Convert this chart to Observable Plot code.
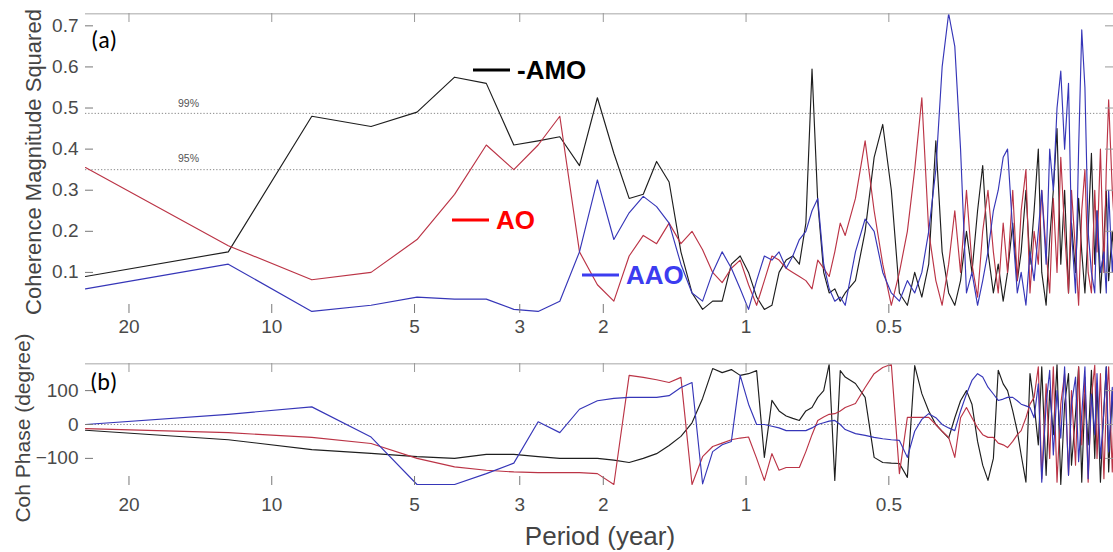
<!DOCTYPE html>
<html>
<head>
<meta charset="utf-8">
<script src="https://cdn.jsdelivr.net/npm/d3@7"></script>
<script src="https://cdn.jsdelivr.net/npm/@observablehq/plot@0.6"></script>
<style>
  html, body { margin: 0; padding: 0; background: #fff; }
  #chart { position: relative; width: 1113px; height: 552px; overflow: hidden; background: #fff; }
  #chart svg { display: block; }
  #overlay { position: absolute; left: 0; top: 0; pointer-events: none; }
</style>
</head>
<body>
<div id="chart"></div>
<script>
// Spectral bins: period (years) of each frequency bin, long periods first
const period = [
  24.7, 12.35, 8.233, 6.175, 4.94, 4.117, 3.529, 3.088, 2.744, 2.47,
  2.245, 2.058, 1.9, 1.764, 1.647, 1.544, 1.453, 1.372, 1.3, 1.235,
  1.176, 1.123, 1.074, 1.029, 0.988, 0.95, 0.915, 0.882, 0.852, 0.823,
  0.797, 0.772, 0.748, 0.726, 0.706, 0.686, 0.668, 0.65, 0.633, 0.618,
  0.588, 0.561, 0.537, 0.515, 0.494, 0.475, 0.457, 0.441, 0.426, 0.412,
  0.398, 0.386, 0.374, 0.363, 0.353, 0.343, 0.334, 0.325, 0.317, 0.309,
  0.301, 0.294, 0.287, 0.281, 0.274, 0.268, 0.263, 0.257, 0.252, 0.247,
  0.242, 0.238, 0.233, 0.229, 0.225, 0.221, 0.217, 0.213, 0.209, 0.206,
  0.202, 0.199, 0.196, 0.193, 0.19, 0.187, 0.184, 0.182, 0.179, 0.176,
  0.174, 0.172, 0.169, 0.167
];

// (a) magnitude-squared coherence with the index
const cohAMO = [
  0.09, 0.15, 0.48, 0.455, 0.49, 0.575, 0.56, 0.41, 0.42, 0.43,
  0.36, 0.525, 0.39, 0.28, 0.29, 0.37, 0.32, 0.15, 0.05, 0.01,
  0.03, 0.03, 0.12, 0.14, 0.10, 0.04, 0.01, 0.02, 0.10, 0.13,
  0.14, 0.12, 0.22, 0.595, 0.27, 0.10, 0.05, 0.06, 0.03, 0.05,
  0.08, 0.20, 0.38, 0.46, 0.30, 0.05, 0.02, 0.10, 0.04, 0.12,
  0.42, 0.15, 0.05, 0.02, 0.08, 0.20, 0.10, 0.25, 0.36, 0.15,
  0.05, 0.12, 0.03, 0.10, 0.22, 0.08, 0.15, 0.30, 0.12, 0.25,
  0.40, 0.10, 0.02, 0.18, 0.30, 0.45, 0.12, 0.30, 0.05, 0.22,
  0.10, 0.28, 0.15, 0.05, 0.20, 0.39, 0.12, 0.25, 0.05, 0.18,
  0.30, 0.08, 0.20, 0.10
];
const cohAO = [
  0.355, 0.165, 0.082, 0.10, 0.18, 0.29, 0.41, 0.35, 0.41, 0.48,
  0.15, 0.07, 0.03, 0.14, 0.19, 0.17, 0.22, 0.17, 0.20, 0.155,
  0.10, 0.075, 0.11, 0.13, 0.07, 0.02, 0.08, 0.14, 0.13, 0.11,
  0.10, 0.09, 0.08, 0.06, 0.13, 0.11, 0.09, 0.15, 0.22, 0.19,
  0.28, 0.42, 0.25, 0.12, 0.02, 0.10, 0.20, 0.35, 0.525, 0.20,
  0.08, 0.02, 0.12, 0.25, 0.10, 0.30, 0.12, 0.04, 0.20, 0.30,
  0.15, 0.05, 0.22, 0.10, 0.30, 0.08, 0.25, 0.35, 0.05, 0.20,
  0.12, 0.30, 0.15, 0.05, 0.28, 0.10, 0.38, 0.20, 0.05, 0.30,
  0.15, 0.02, 0.25, 0.35, 0.10, 0.05, 0.30, 0.15, 0.40, 0.10,
  0.35, 0.52, 0.30, 0.20
];
const cohAAO = [
  0.06, 0.12, 0.005, 0.02, 0.04, 0.035, 0.035, 0.01, 0.005, 0.03,
  0.15, 0.325, 0.18, 0.245, 0.285, 0.26, 0.22, 0.12, 0.05, 0.03,
  0.10, 0.15, 0.11, 0.06, 0.01, 0.08, 0.14, 0.13, 0.15, 0.11,
  0.14, 0.18, 0.20, 0.25, 0.28, 0.12, 0.06, 0.03, 0.04, 0.02,
  0.15, 0.23, 0.20, 0.10, 0.05, 0.03, 0.08, 0.05, 0.10, 0.20,
  0.35, 0.60, 0.73, 0.65, 0.40, 0.05, 0.10, 0.02, 0.08, 0.15,
  0.25, 0.30, 0.38, 0.40, 0.20, 0.05, 0.10, 0.02, 0.15, 0.08,
  0.20, 0.30, 0.12, 0.40, 0.30, 0.50, 0.59, 0.40, 0.56, 0.20,
  0.05, 0.40, 0.69, 0.55, 0.20, 0.10, 0.05, 0.25, 0.10, 0.15,
  0.05, 0.30, 0.10, 0.20
];

// (b) coherence phase, degrees
const phAMO = [
  -17, -45, -74, -85, -95, -100, -88, -88, -95, -100,
  -100, -100, -105, -112, -100, -86, -62, -35, 5, 77,
  165, 153, 162, 145, 150, 159, -97, 71, 40, 25,
  18, 12, 40, 50, 80, 100, 178, -165, 159, 140,
  121, 80, -97, -112, -114, -115, -156, 174, 91, 40,
  0, -20, -40, 20, 70, 100, 60, -50, -120, -165,
  -100, 160, 120, 100, 40, -20, -90, -170, 150, 60,
  -60, 170, -150, 100, -30, 178, -177, 60, 150, -120,
  30, 170, -170, 90, -60, 160, -100, 120, -170, 50,
  170, -140, 100, -60
];
const phAO = [
  -12, -24, -38, -56, -100, -125, -135, -140, -142, -142,
  -142, -145, -177, 145, 139, 132, 124, 139, -177, -95,
  -65, -55, -45, -40, -37, -100, -165, -86, -135, -127,
  -127, -127, -80, -30, 12, 22, 30, 32, 40, 50,
  62, 109, 150, 168, 178, -145, 21, 21, 21, 21,
  0, -20, -38, -97, 20, 50, 20, -10, -30, -38,
  -38, -55, -60, -68, -50, -30, -18, 20, 60, 80,
  170, -160, 120, -100, 170, -170, 60, 150, -150, 100,
  -120, 170, -60, 140, -170, 80, 175, -100, 150, -160,
  60, 170, -140, 120
];
const phAAO = [
  0, 30, 52, -37, -177, -177, -145, -114, 8, -24,
  45, 70, 77, 80, 80, 80, 85, 109, 124, -175,
  -80, -60, -50, 145, 60, 0, 0, -5, -10, -18,
  -18, -18, -18, -10, 0, 5, 10, 12, 0, -15,
  -27, -32, -38, -42, -45, -47, -97, -20, 15, 32,
  20, 0, -10, -18, 40, 90, 130, 150, 140, 110,
  90, 71, 75, 80, 80, 70, 60, 55, 50, 20,
  120, -170, 60, 160, -90, 100, -40, 170, -150, 60,
  140, -110, 30, 170, -160, 90, -30, 150, -100, 40,
  170, -80, 110, -140
];

const seriesNames = ["-AMO", "AO", "AAO"];
const seriesColors = ["#1e1e1e", "#bb3446", "#3636b8"];

const periodTicks = [20, 10, 5, 3, 2, 1, 0.5];
const cohTicks = [0.1, 0.2, 0.3, 0.4, 0.5, 0.6, 0.7];
const phaseTicks = [-100, 0, 100];
const sigLevels = [0.487, 0.35];
const sigLabels = ["99%", "95%"];

const W = 1113;
const ML = 85;
const frameW = W - ML;
const font = "'Liberation Sans', Arial, Helvetica, sans-serif";
const xOpts = {type: "log", domain: [24.7, 0.168]};

function rows(values) {
  return period.map((p, i) => ({p, v: values[i]}));
}

function framing(yDomain, yTicks, frameH) {
  return [
    Plot.ruleY([yDomain[1]], {stroke: "#c4c4c4", strokeWidth: 2}),
    Plot.ruleY([yDomain[0]], {stroke: "#8c8c8c", strokeWidth: 1}),
    Plot.ruleX(periodTicks, {x: d => d, insetTop: frameH - 9, stroke: "#777"}),
    Plot.ruleX(periodTicks, {x: d => d, insetBottom: frameH - 9, stroke: "#999"}),
    Plot.ruleY(yTicks, {y: d => d, insetRight: frameW - 8, stroke: "#777"}),
    Plot.ruleY(yTicks, {y: d => d, insetLeft: frameW - 8, stroke: "#999"})
  ];
}

function seriesLines(arrays) {
  return arrays.map((arr, i) =>
    Plot.line(rows(arr), {x: "p", y: "v", stroke: seriesColors[i], strokeWidth: 1.15, curve: "linear"})
  );
}

// Panel (a): coherence
const frameHA = 300;
const plotA = Plot.plot({
  width: W, height: 345,
  marginLeft: ML, marginRight: 0, marginTop: 13, marginBottom: 32,
  style: {fontFamily: font, color: "#4a4a4a", background: "transparent", overflow: "visible"},
  x: xOpts,
  y: {domain: [0, 0.73]},
  clip: true,
  marks: [
    Plot.ruleY(sigLevels, {y: d => d, stroke: "#8a8a8a", strokeWidth: 1, strokeDasharray: "1.3,1.9"}),
    ...seriesLines([cohAMO, cohAO, cohAAO]),
    ...framing([0, 0.73], cohTicks, frameHA),
    Plot.axisX(periodTicks, {tickSize: 0, tickPadding: 6, fontSize: 19, tickFormat: d => String(d), label: null}),
    Plot.axisY(cohTicks, {tickSize: 0, tickPadding: 7, fontSize: 19, tickFormat: d => d.toFixed(1), label: null})
  ]
});

// Panel (b): phase
const frameHB = 122;
const plotB = Plot.plot({
  width: W, height: 207,
  marginLeft: ML, marginRight: 0, marginTop: 18, marginBottom: 67,
  style: {fontFamily: font, color: "#4a4a4a", background: "transparent", overflow: "visible"},
  x: xOpts,
  y: {domain: [-180, 180]},
  clip: true,
  marks: [
    Plot.ruleY([0], {stroke: "#8a8a8a", strokeWidth: 1, strokeDasharray: "1.3,1.9"}),
    ...seriesLines([phAMO, phAO, phAAO]),
    ...framing([-180, 180], phaseTicks, frameHB),
    Plot.axisX(periodTicks, {tickSize: 0, tickPadding: 12, fontSize: 19, tickFormat: d => String(d), label: null}),
    Plot.axisY(phaseTicks, {tickSize: 0, tickPadding: 7, fontSize: 19, label: null})
  ]
});

const chart = document.getElementById("chart");
chart.appendChild(plotA);
chart.appendChild(plotB);

// Titles, panel tags, significance labels and the series key
const ov = d3.select(chart).append("svg")
  .attr("id", "overlay")
  .attr("width", W).attr("height", 552)
  .style("font-family", font);

ov.append("text").attr("transform", "translate(41,162) rotate(-90)")
  .attr("text-anchor", "middle").attr("font-size", 22).attr("fill", "#444")
  .text("Coherence Magnitude Squared");
ov.append("text").attr("transform", "translate(30,428) rotate(-90)")
  .attr("text-anchor", "middle").attr("font-size", 21).attr("fill", "#444")
  .text("Coh Phase (degree)");
ov.append("text").attr("x", 600).attr("y", 545)
  .attr("text-anchor", "middle").attr("font-size", 26).attr("fill", "#444")
  .text("Period (year)");

const tagFont = "Calibri, Carlito, 'Open Sans', 'Liberation Sans', sans-serif";
ov.append("text").attr("x", 91).attr("y", 48).attr("font-size", 24)
  .attr("font-family", tagFont).attr("fill", "#000").text("(a)");
ov.append("text").attr("x", 90).attr("y", 390).attr("font-size", 24)
  .attr("font-family", tagFont).attr("fill", "#000").text("(b)");

sigLabels.forEach((t, i) => {
  ov.append("text").attr("x", 178).attr("y", [107, 162][i])
    .attr("font-size", 10.5).attr("fill", "#555").text(t);
});

const keyColors = ["#000000", "#ff0000", "#3c3cf0"];
const keyPos = [[473, 70], [452, 220], [582, 275]];
seriesNames.forEach((name, i) => {
  const [x, y] = keyPos[i];
  ov.append("line").attr("x1", x).attr("x2", x + 37).attr("y1", y).attr("y2", y)
    .attr("stroke", keyColors[i]).attr("stroke-width", 3.2);
  ov.append("text").attr("x", x + 44).attr("y", y + 9)
    .attr("font-size", 26).attr("font-weight", 700).attr("fill", keyColors[i])
    .text(name);
});
</script>
</body>
</html>
